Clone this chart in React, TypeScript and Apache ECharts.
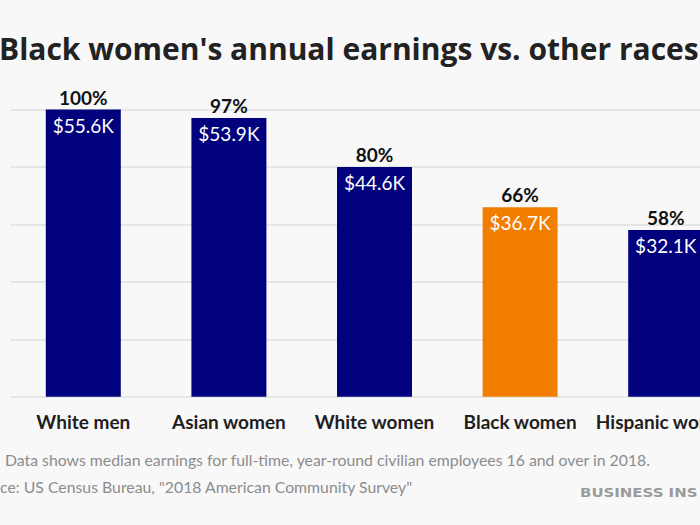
import React, { useEffect, useRef } from "react";
import * as echarts from "echarts";

const categories = ["White men", "Asian women", "White women", "Black women", "Hispanic women"];
const percentValues = [100, 97, 80, 66, 58];
const dollarLabels = ["$55.6K", "$53.9K", "$44.6K", "$36.7K", "$32.1K"];
const percentLabels = ["100%", "97%", "80%", "66%", "58%"];
const highlightIndex = 3;

const titleText = "Black women's annual earnings vs. other races";
const noteText = "Data shows median earnings for full-time, year-round civilian employees 16 and over in 2018.";
const sourceText = "ce: US Census Bureau, \"2018 American Community Survey\"";
const brandText = "BUSINESS INS";

const NAVY = "#01017d";
const ORANGE = "#f27e00";

export default function App() {
  const ref = useRef<HTMLDivElement>(null);
  useEffect(() => {
    if (!ref.current) return;
    const chart = echarts.init(ref.current, null, { renderer: "svg" });
    const barData = percentValues.map((v, i) => ({
      value: v,
      itemStyle: { color: i === highlightIndex ? ORANGE : NAVY },
    }));
    chart.setOption({
      animation: false,
      backgroundColor: "#f8f8f8",
      grid: { left: 10.5, top: 109.5, width: 728, height: 287.2, containLabel: false },
      xAxis: {
        type: "category",
        data: categories,
        axisLine: { show: false },
        axisTick: { show: false },
        axisLabel: {
          interval: 0,
          margin: 15,
          color: "#1e1e1e",
          fontFamily: "Lato",
          fontWeight: "bold",
          fontSize: 19,
        },
      },
      yAxis: {
        type: "value",
        min: 0,
        max: 100,
        interval: 20,
        axisLabel: { show: false },
        axisLine: { show: false },
        axisTick: { show: false },
        splitLine: { lineStyle: { color: "#e6e6e6", width: 2 } },
      },
      series: [
        {
          type: "bar",
          data: barData,
          barWidth: 75,
          label: {
            show: true,
            position: "top",
            distance: 3,
            formatter: (p: any) => percentLabels[p.dataIndex],
            color: "#111",
            fontFamily: "Lato",
            fontWeight: "bold",
            fontSize: 19,
          },
        },
        {
          type: "bar",
          data: percentValues,
          barWidth: 75,
          barGap: "-100%",
          itemStyle: { color: "rgba(0,0,0,0)" },
          label: {
            show: true,
            position: "insideTop",
            distance: 6,
            formatter: (p: any) => dollarLabels[p.dataIndex],
            color: "#ffffff",
            fontFamily: "Lato",
            fontSize: 19,
          },
        },
      ],
      graphic: [
        {
          type: "text",
          x: -1,
          y: 48.5,
          style: {
            text: titleText,
            fill: "#222",
            font: "bold 30px 'Open Sans'",
            verticalAlign: "middle",
          },
        },
        {
          type: "text",
          x: 5,
          y: 459,
          style: {
            text: noteText,
            fill: "#8c8c8c",
            font: "15.8px Lato",
            verticalAlign: "middle",
          },
        },
        {
          type: "text",
          x: 0,
          y: 486.5,
          style: {
            text: sourceText,
            fill: "#8c8c8c",
            font: "15.8px Lato",
            verticalAlign: "middle",
          },
        },
        {
          type: "text",
          x: 580,
          y: 492,
          scaleX: 1.15,
          style: {
            text: brandText,
            fill: "#9a9a9a",
            font: "bold 13px 'DejaVu Sans'",
            verticalAlign: "middle",
          },
        },
      ],
    });
    return () => chart.dispose();
  }, []);
  return (
    <div style={{ position: "fixed", left: 0, top: 0, width: 700, height: 525, overflow: "hidden" }}>
      <div ref={ref} style={{ width: 760, height: 525 }} />
    </div>
  );
}
